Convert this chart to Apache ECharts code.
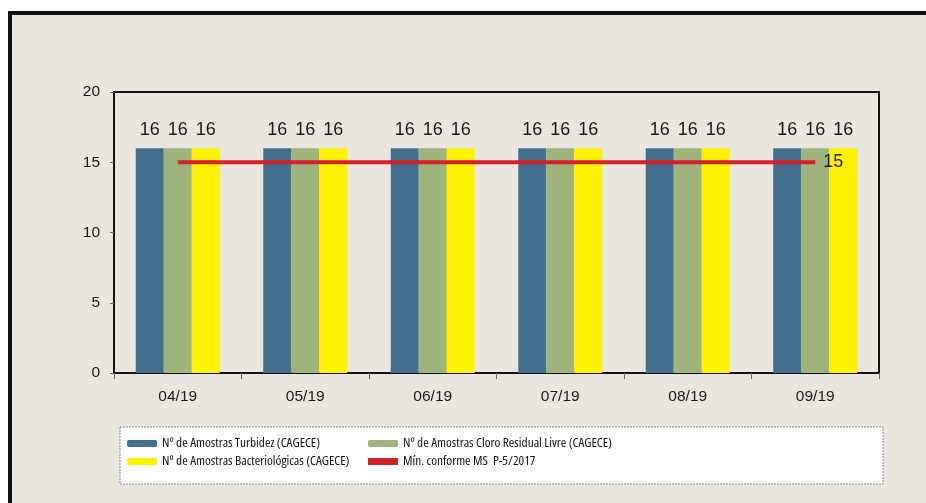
<!DOCTYPE html>
<html><head><meta charset="utf-8">
<script src="https://cdn.jsdelivr.net/npm/echarts@6/dist/echarts.min.js"></script>
<style>html,body{margin:0;padding:0;background:#fff}#c{width:926px;height:503px}</style>
</head><body><div id="c"></div>
<script>
const categories = ['04/19','05/19','06/19','07/19','08/19','09/19'];
const turbidez = [16,16,16,16,16,16];
const cloro = [16,16,16,16,16,16];
const bacterio = [16,16,16,16,16,16];
const minimo = [15,15,15,15,15,15];
const names = ['Nº de Amostras Turbidez (CAGECE)','Nº de Amostras Cloro Residual Livre (CAGECE)','Nº de Amostras Bacteriológicas (CAGECE)','Mín. conforme MS  P-5/2017'];
const FONT = 'Liberation Sans, Arial, sans-serif';
const chart = echarts.init(document.getElementById('c'));
const barLabel = {show:true, position:'top', distance:9, fontSize:18, color:'#1a1a1a', fontFamily:FONT};
const legText = {fontSize:13.3, color:'#111', fontFamily:'Open Sans', fontWeight:'condensed'};
chart.setOption({
  animation:false,
  backgroundColor:'#ffffff',
  graphic:[
    {type:'rect', z:-10, shape:{x:10,y:13,width:930,height:500}, style:{fill:'#e9e5df', stroke:'#111', lineWidth:4}},
    {type:'rect', z:-5, shape:{x:120,y:427,width:763,height:57}, style:{fill:'#ffffff', stroke:'#8a8a8a', lineWidth:1, lineDash:[2,1]}}
  ],
  grid:{left:114, top:92, width:765, height:281, show:true, borderColor:'#111', borderWidth:2, backgroundColor:'transparent'},
  legend:[
    {data:[names[0],names[2]], orient:'vertical', left:127, top:437, padding:0, itemWidth:30, itemHeight:7, itemGap:5, textStyle:legText},
    {data:[names[1],{name:names[3], icon:'rect', itemStyle:{color:'#d4202a'}}], orient:'vertical', left:368, top:437, padding:0, itemWidth:30, itemHeight:7, itemGap:5, textStyle:legText}
  ],
  xAxis:{type:'category', data:categories, boundaryGap:true,
    axisLine:{lineStyle:{color:'#111', width:2}},
    axisTick:{show:true, length:6, lineStyle:{color:'#666'}},
    axisLabel:{fontSize:15.5, color:'#1a1a1a', margin:16, fontFamily:FONT}},
  yAxis:{type:'value', min:0, max:20, interval:5,
    splitLine:{show:false},
    axisLine:{show:true, lineStyle:{color:'#111', width:2}},
    axisTick:{show:true, length:4, lineStyle:{color:'#666'}},
    axisLabel:{fontSize:15.5, color:'#1a1a1a', margin:14, fontFamily:FONT}},
  series:[
    {name:names[0], type:'bar', data:turbidez, barWidth:28, barGap:'0%', itemStyle:{color:'#43708e'}, label:barLabel},
    {name:names[1], type:'bar', data:cloro, barWidth:28, barGap:'0%', itemStyle:{color:'#9fb47a'}, label:barLabel},
    {name:names[2], type:'bar', data:bacterio, barWidth:28, barGap:'0%', itemStyle:{color:'#fff200'}, label:barLabel},
    {name:names[3], type:'line', data:minimo, z:10, symbol:'none', lineStyle:{color:'#d4202a', width:4}, itemStyle:{color:'#d4202a'},
     endLabel:{show:true, distance:8, fontSize:18, color:'#1a1a1a', fontFamily:FONT, formatter:'{c}'}}
  ]
});
</script></body></html>
